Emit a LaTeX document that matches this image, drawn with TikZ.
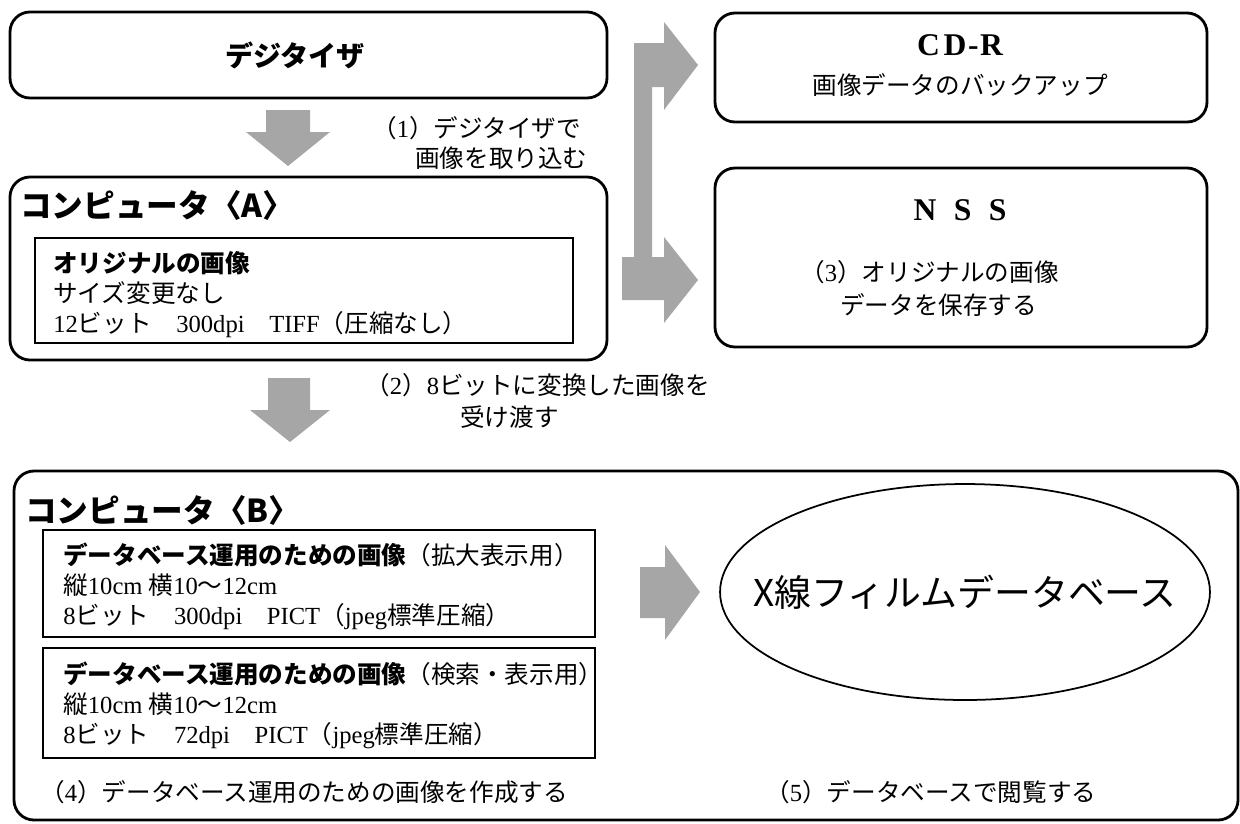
\documentclass[tikz,border=0pt]{standalone}
\usepackage{fontspec}
\setmainfont{Liberation Serif}
\newfontfamily\jp{Noto Sans CJK JP}
\usetikzlibrary{fit,shapes.geometric}
\newcommand\J[1]{{\jp #1}}
\begin{document}
\begin{tikzpicture}[x=0.02cm,y=-0.02cm,
  outerbox/.style={draw, line width=1.6pt, rounded corners=0.4cm, inner sep=0pt},
  innerbox/.style={draw, line width=1.5pt, inner sep=0pt},
  garrow/.style={fill=black!35, draw=none},
  body/.style={font=\fontsize{14}{17}\selectfont, anchor=west, inner sep=0pt},
  lines/.style={font=\fontsize{14}{17}\selectfont, anchor=north west, inner sep=0pt, align=left},
  title/.style={font=\jp\bfseries\fontsize{18}{21}\selectfont, anchor=west, inner sep=0pt},
  big/.style={font=\bfseries\fontsize{18}{21}\selectfont, inner sep=0pt}]
\useasboundingbox (0,0) rectangle (1240,823);

% boxes
\node[outerbox, fit={(10,12) (607,98)}] (dig) {};
\node[outerbox, fit={(10,177) (607,360)}] (compA) {};
\node[innerbox, fit={(35,238) (573,343)}] (origA) {};
\node[outerbox, fit={(715,13) (1207,122)}] (cdr) {};
\node[outerbox, fit={(715,168) (1207,347)}] (nss) {};
\node[outerbox, fit={(14,471) (1238,820)}] (compB) {};
\node[innerbox, fit={(43,530) (595,637)}] (img1) {};
\node[innerbox, fit={(43,648) (595,758)}] (img2) {};
\node[draw, ellipse, line width=1pt, minimum width=9.8cm, minimum height=4.32cm, inner sep=0pt] (xdb) at (965,592) {};
\node[font=\jp\fontsize{21}{24}\selectfont, inner sep=0pt] (xdbt) at (xdb.center) {X線フィルムデータベース};

% texts
\node[font=\jp\bfseries\fontsize{16}{19}\selectfont, inner sep=0pt] (digt) at (295,55) {デジタイザ};
\node[body] (l1a) at (372,128) {\J{（}1\J{）デジタイザで}};
\node[body] (l1b) at (415,158) {\J{画像を取り込む}};
\node[title] (At) at (20,205) {\J{コンピュータ〈}A\J{〉}};
\node[lines] (At1) at (53,251) {\J{\bfseries オリジナルの画像}\\ \J{サイズ変更なし}\\ 12\J{ビット}\quad 300dpi\quad TIFF\J{（圧縮なし）}};

\node[big] (cdrt) at (960,45) {C\hspace{0.12em}D\hspace{0.05em}-\hspace{0.05em}R};
\node[body, anchor=center] (cdrs) at (960,85) {\J{画像データのバックアップ}};
\node[big] (nsst) at (960,210) {N\hspace{0.55em}S\hspace{0.55em}S};
\node[body] (n1) at (800,272) {\J{（}3\J{）オリジナルの画像}};
\node[body] (n2) at (840,305) {\J{データを保存する}};

\node[body] (l2a) at (365,385) {\J{（}2\J{）}8\J{ビットに変換した画像を}};
\node[body] (l2b) at (460,417) {\J{受け渡す}};

\node[title] (Bt) at (25,510) {\J{コンピュータ〈}B\J{〉}};
\node[lines] (B1) at (63,543) {\J{\bfseries データベース運用のための画像}\J{（拡大表示用）}\\ \J{縦}10cm \J{横}10\J{～}12cm\\ 8\J{ビット}\quad 300dpi\quad PICT\J{（}jpeg\J{標準圧縮）}};
\node[lines] (B2) at (63,662) {\J{\bfseries データベース運用のための画像}\J{（検索・表示用）}\\ \J{縦}10cm \J{横}10\J{～}12cm\\ 8\J{ビット}\quad 72dpi\quad PICT\J{（}jpeg\J{標準圧縮）}};
\node[body] (l4) at (40,792) {\J{（}4\J{）データベース運用のための画像を作成する}};
\node[body] (l5) at (765,792) {\J{（}5\J{）データベースで閲覧する}};

% grey block arrows
\path[garrow] (266,110) -- (310,110) -- (310,132) -- (330,132) -- (288,166) -- (246,132) -- (266,132) -- cycle;
\path[garrow] (268,378) -- (310,378) -- (310,410) -- (330,410) -- (290,442) -- (250,410) -- (268,410) -- cycle;
\path[garrow] (640,567) -- (665,567) -- (665,545) -- (700,592) -- (665,640) -- (665,618) -- (640,618) -- cycle;
\path[garrow] (634,43) -- (664,43) -- (664,22) -- (698,65) -- (664,110) -- (664,87) -- (652,87)
  -- (652,257) -- (664,257) -- (664,237) -- (698,280) -- (664,323) -- (664,300) -- (622,300)
  -- (622,257) -- (634,257) -- cycle;
\end{tikzpicture}
\end{document}
